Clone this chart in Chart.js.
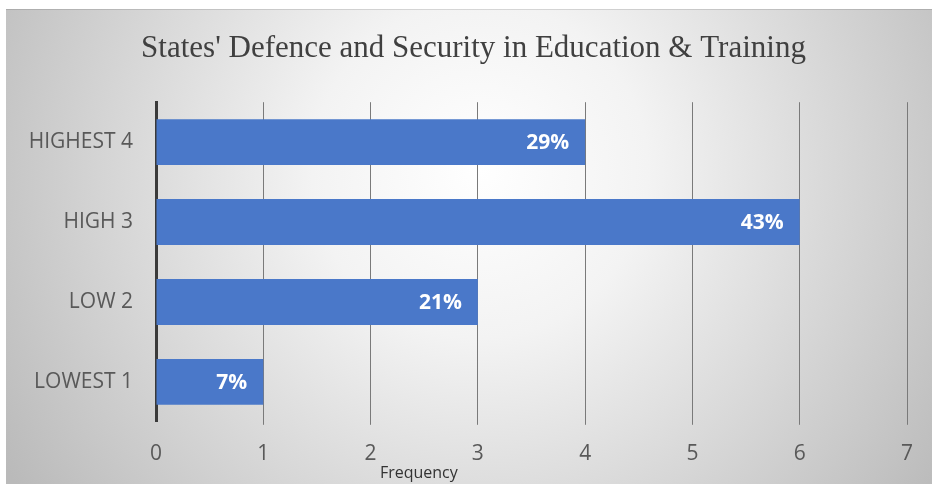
<!DOCTYPE html>
<html>
<head>
<meta charset="utf-8">
<title>States' Defence and Security in Education &amp; Training</title>
<script src="https://cdn.jsdelivr.net/npm/chart.js@4/dist/chart.umd.min.js"></script>
<style>
    html, body { margin: 0; padding: 0; background: #ffffff; }
    #wrap { width: 932px; height: 484px; position: relative; }
</style>
</head>
<body>
<div id="wrap"><canvas id="freqChart"></canvas></div>
<script>
// chart data
var categories = ['HIGHEST 4', 'HIGH 3', 'LOW 2', 'LOWEST 1'];
var frequency = [4, 6, 3, 1];
var percentLabels = ['29%', '43%', '21%', '7%'];
var xTicks = [0, 1, 2, 3, 4, 5, 6, 7];
var chartTitle = "States' Defence and Security in Education & Training";
var xTitle = 'Frequency';

(function () {
    'use strict';

    // ── grey radial backdrop, like the office chart area
    var backdrop = {
        id: 'backdrop',
        beforeDraw: function (chart) {
            var ctx = chart.ctx;
            var w = chart.width, h = chart.height;
            ctx.save();
            ctx.fillStyle = '#ffffff';
            ctx.fillRect(0, 0, w, h);
            var g = ctx.createRadialGradient(480, 170, 0, 480, 170, 560);
            g.addColorStop(0, '#ffffff');
            g.addColorStop(0.3, '#f3f3f3');
            g.addColorStop(1, '#bababa');
            ctx.fillStyle = g;
            ctx.fillRect(6, 9, w - 6, h - 9);
            ctx.fillStyle = 'rgba(0,0,0,0.12)';
            ctx.fillRect(6, 9, w - 6, 1);
            ctx.restore();
        }
    };

    // ── title sits a bit right of the canvas centre in the original
    var titleShift = {
        id: 'titleShift',
        afterLayout: function (chart) {
            if (chart.titleBlock) chart.titleBlock.left += 40;
        }
    };

    // ── percent labels at the inside end of each bar
    var barLabels = {
        id: 'barLabels',
        afterDatasetsDraw: function (chart) {
            var ctx = chart.ctx;
            var meta = chart.getDatasetMeta(0);
            ctx.save();
            ctx.font = 'bold 21px "Open Sans", sans-serif';
            ctx.fillStyle = '#ffffff';
            ctx.textAlign = 'right';
            ctx.textBaseline = 'middle';
            meta.data.forEach(function (bar, i) {
                ctx.fillText(percentLabels[i], bar.x - 16, bar.y + 1);
            });
            ctx.restore();
        }
    };

    // ── small axis title, sits left of centre in the original
    var freqLabel = {
        id: 'freqLabel',
        afterDraw: function (chart) {
            var ctx = chart.ctx;
            var xs = chart.scales.x;
            ctx.save();
            ctx.font = '16px "Open Sans", sans-serif';
            ctx.fillStyle = '#333333';
            ctx.textAlign = 'center';
            ctx.textBaseline = 'middle';
            ctx.fillText(xTitle, xs.getPixelForValue(2.45), 473);
            ctx.restore();
        }
    };

    new Chart(document.getElementById('freqChart'), {
        type: 'bar',
        data: {
            labels: categories,
            datasets: [{
                label: xTitle,
                data: frequency,
                backgroundColor: '#4a78c9',
                borderWidth: 0,
                categoryPercentage: 1,
                barPercentage: 0.575
            }]
        },
        options: {
            indexAxis: 'y',
            responsive: true,
            maintainAspectRatio: false,
            animation: false,
            layout: { padding: { left: 0, right: 25, top: 0, bottom: 0 } },
            scales: {
                x: {
                    min: 0,
                    max: 7,
                    afterBuildTicks: function (scale) {
                        scale.ticks = xTicks.map(function (v) { return { value: v }; });
                    },
                    grid: {
                        color: function (c) { return c.tick && c.tick.value === 0 ? 'rgba(0,0,0,0)' : '#7a7a7a'; },
                        lineWidth: 1,
                        drawTicks: true,
                        tickLength: 3
                    },
                    border: { display: false },
                    ticks: {
                        color: '#595959',
                        font: { family: '"Open Sans", sans-serif', size: 21 },
                        padding: 17
                    }
                },
                y: {
                    afterFit: function (scale) { scale.width = 156; },
                    grid: { display: false },
                    border: { display: true, color: '#3a3a3a', width: 3 },
                    ticks: {
                        color: '#595959',
                        font: { family: '"Open Sans", sans-serif', size: 21 },
                        padding: 15
                    }
                }
            },
            plugins: {
                legend: { display: false },
                tooltip: { enabled: false },
                title: {
                    display: true,
                    text: chartTitle,
                    color: '#404040',
                    font: { family: '"Liberation Serif", serif', size: 31, weight: 'normal' },
                    padding: { top: 30, bottom: 35 }
                }
            }
        },
        plugins: [backdrop, titleShift, barLabels, freqLabel]
    });
})();
</script>
</body>
</html>
